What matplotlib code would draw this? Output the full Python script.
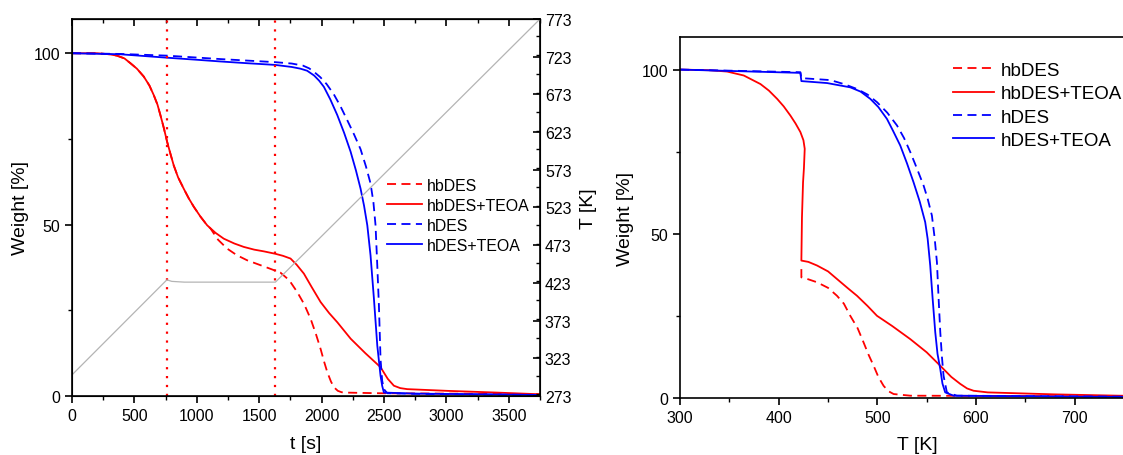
import matplotlib
matplotlib.use("Agg")
import matplotlib.pyplot as plt
from matplotlib.ticker import MultipleLocator

plt.rcParams['font.family'] = ['Liberation Sans', 'DejaVu Sans']

# ---- left panel: weight vs time ----
t_hb = [0, 200, 300, 360, 420, 468, 520, 575, 620, 655, 685, 708, 735, 762, 790, 815, 850, 895,
        935, 976, 1030, 1083, 1109, 1170, 1243, 1320, 1403, 1500, 1590, 1670, 1740, 1805, 1860,
        1912, 1955, 1992, 2020, 2046, 2075, 2100, 2130, 2160, 2178, 2472, 3000, 3750]
w_hb = [100, 100, 99.7, 99.3, 98.5, 97.1, 95.5, 93.2, 90.6, 87.8, 85, 82, 78.3, 74.2, 70.5, 67.3,
        63.8, 60.5, 57.7, 55.2, 52.3, 49.8, 48.9, 45.6, 43, 41.1, 39.6, 38.3, 37.1, 36.0, 33.8,
        30.3, 26.8, 22.5, 18.0, 13.7, 10.0, 6.9, 4.2, 2.5, 1.5, 1.1, 1.0, 0.8, 0.7, 0.5]

t_hb_teoa = [0, 200, 300, 360, 420, 468, 520, 575, 620, 655, 685, 708, 735, 762, 790, 815, 850,
             895, 935, 976, 1030, 1083, 1150, 1216, 1300, 1376, 1460, 1537, 1628, 1690, 1751,
             1800, 1858, 1920, 1992, 2060, 2126, 2233, 2350, 2472, 2530, 2579, 2630, 2686, 3007,
             3400, 3750]
w_hb_teoa = [100, 100, 99.7, 99.3, 98.5, 97.1, 95.5, 93.2, 90.6, 87.8, 85, 82, 78.3, 74.2, 70.5,
             67.3, 63.8, 60.5, 57.7, 55.2, 52.3, 49.8, 47.6, 45.9, 44.5, 43.5, 42.7, 42.2, 41.5,
             40.9, 40.1, 38.3, 35.7, 31.8, 27.4, 24.2, 21.5, 16.7, 12.5, 8.4, 5.0, 3.0, 2.3, 2.0,
             1.5, 1.0, 0.5]

t_h = [0, 387, 762, 1190, 1628, 1760, 1850, 1900, 1938, 1990, 2040, 2098, 2150, 2205, 2260,
       2312, 2355, 2392, 2415, 2432, 2446, 2459, 2472, 2485, 2499, 2526, 2800, 3750]
w_h = [100, 99.8, 99.3, 98.3, 97.4, 97.0, 96.4, 95.6, 94.6, 93.0, 91.0, 88.0, 84.6, 80.5, 76.3,
       72.0, 67.0, 62.0, 56.5, 49.8, 38.0, 26.4, 10.8, 4.5, 2.0, 0.8, 0.6, 0.3]

t_h_teoa = [0, 387, 762, 1000, 1190, 1400, 1628, 1760, 1830, 1884, 1940, 1980, 2018, 2070, 2125,
            2180, 2232, 2275, 2312, 2340, 2366, 2392, 2419, 2446, 2472, 2485, 2499, 2740, 3750]
w_h_teoa = [100, 99.7, 98.7, 98.1, 97.6, 97.1, 96.6, 96.0, 95.5, 94.9, 93.5, 92.0, 90.2, 86.5,
            82, 76.8, 71.3, 65.8, 60.5, 55.5, 49.8, 41, 28.4, 14.7, 5.9, 3.0, 1.0, 0.7, 0.3]

# furnace temperature program
t_temp = [0, 760, 800, 900, 1630, 3750]
T_temp = [301, 427, 425, 424, 424, 773]

t_marks = [760, 1628]

# ---- right panel: weight vs temperature ----
T_hb = [422.9, 422.9, 430, 438.8, 450, 459, 466, 472.5, 480, 486, 491, 496.2, 501, 506.3, 511,
        516.5, 533.4, 650, 800]
W_hb = [39.3, 36.8, 36.2, 35.3, 33.6, 31.2, 28.8, 25.1, 21.3, 17, 13.3, 9.9, 6.5, 3.8, 2.2,
        1.3, 0.8, 0.7, 0.5]

T_hb_teoa = [300, 330, 347.6, 364.5, 381.4, 390, 398.3, 405, 411.8, 417, 421.9, 425, 426.3,
             425.5, 424.6, 423.5, 422.9, 430, 438.8, 450, 459, 470, 479.3, 490, 499.6, 515,
             533.4, 550, 563.8, 575, 584, 591, 597.6, 612, 680, 745, 800]
W_hb_teoa = [100, 99.8, 99.4, 98.2, 95.6, 93.6, 91.1, 88.8, 86, 83.6, 81, 78.5, 75.9,
             70, 65.7, 55, 41.9, 41.5, 40.4, 38.6, 36.3, 33.5, 31.2, 28.1, 25.1, 22.0,
             18, 14.0, 9.9, 6.5, 4.4, 3.0, 2.3, 1.8, 1.2, 0.8, 0.6]

T_h = [300, 421.9, 422.9, 452.4, 466, 479.3, 490, 499.6, 510, 519.9, 527, 533.4, 540, 546.9,
       551, 555.3, 558, 560.4, 562, 563.8, 565.5, 567.1, 570.5, 580.6, 700, 800]
W_h = [100, 99.2, 97.4, 96.8, 95.6, 94.1, 92.4, 90.1, 86.9, 83, 79.2, 74.9, 70.0, 64.7,
       60.7, 55.6, 49, 41.4, 31, 20.1, 12.5, 6.9, 1.8, 0.8, 0.6, 0.4]

T_h_teoa = [300, 421.9, 422.9, 449, 472.5, 483, 492.8, 501, 509.7, 516, 523.2, 530, 536.7,
            543, 548.5, 551, 553.6, 556, 558.7, 561, 563.8, 566, 568.8, 577.3, 700, 800]
W_h_teoa = [100, 99, 96.5, 95.9, 94.6, 93.3, 91.1, 88.6, 85, 81.3, 76.9, 71.5, 65.7,
            59.8, 53.6, 48.5, 40.4, 30.5, 20.1, 13.5, 8.9, 4.5, 1.8, 0.8, 0.5, 0.4]

RED = '#ff0000'
BLUE = '#0000ff'
DASH = (0, (5, 3))
LW = 1.3

fig = plt.figure(figsize=(11.23, 4.56), dpi=100)

# left panel
ax = fig.add_axes([0.0641, 0.1294, 0.4168, 0.8268])
ax.plot(t_hb, w_hb, color=RED, ls=DASH, lw=LW, label='hbDES')
ax.plot(t_hb_teoa, w_hb_teoa, color=RED, lw=LW, label='hbDES+TEOA')
ax.plot(t_h, w_h, color=BLUE, ls=DASH, lw=LW, label='hDES')
ax.plot(t_h_teoa, w_h_teoa, color=BLUE, lw=LW, label='hDES+TEOA')
for tm in t_marks:
    ax.axvline(tm, color=RED, ls=(0, (1, 3)), lw=1.6)
ax.set_xlim(0, 3750)
ax.set_ylim(0, 110)
ax.set_xticks(range(0, 3501, 500))
ax.set_yticks([0, 50, 100])
ax.xaxis.set_minor_locator(MultipleLocator(250))
ax.yaxis.set_minor_locator(MultipleLocator(25))
ax.tick_params(which='major', direction='out', length=5, width=1.2, labelsize=11.5)
ax.tick_params(which='minor', direction='out', length=3, width=1.0)
ax.set_xlabel('t [s]', fontsize=14)
ax.set_ylabel('Weight [%]', fontsize=14)
ax.xaxis.set_label_coords(0.5, -0.103)
ax.yaxis.set_label_coords(-0.092, 0.5)
for s in ax.spines.values():
    s.set_linewidth(1.2)

top = ax.secondary_xaxis('top')
top.set_xticks(range(0, 3501, 500))
top.xaxis.set_minor_locator(MultipleLocator(250))
top.tick_params(which='major', direction='in', length=5, width=1.2, labeltop=False)
top.tick_params(which='minor', direction='in', length=3, width=1.0)

ax2 = ax.twinx()
ax2.plot(t_temp, T_temp, color='#b4b4b4', lw=0.9)
ax2.set_ylim(273, 773)
ax2.set_yticks(range(273, 774, 50))
ax2.yaxis.set_minor_locator(MultipleLocator(25))
ax2.tick_params(which='major', direction='in', length=5, width=1.2, labelsize=11.5)
ax2.tick_params(which='minor', direction='in', length=3, width=1.0)
ax2.set_ylabel('T [K]', fontsize=14)
ax2.yaxis.set_label_coords(1.085, 0.5)

ax.legend(loc='upper left', bbox_to_anchor=(0.3446, 0.608), bbox_transform=fig.transFigure,
          frameon=False, fontsize=11.4, borderpad=0, borderaxespad=0, labelspacing=0.32,
          handlelength=2.2, handletextpad=0.35)

# right panel
bx = fig.add_axes([0.6057, 0.1243, 0.4214, 0.7930])
bx.plot(T_hb, W_hb, color=RED, ls=DASH, lw=LW, label='hbDES')
bx.plot(T_hb_teoa, W_hb_teoa, color=RED, lw=LW, label='hbDES+TEOA')
bx.plot(T_h, W_h, color=BLUE, ls=DASH, lw=LW, label='hDES')
bx.plot(T_h_teoa, W_h_teoa, color=BLUE, lw=LW, label='hDES+TEOA')
bx.set_xlim(300, 780)
bx.set_ylim(0, 110)
bx.set_xticks(range(300, 701, 100))
bx.set_yticks([0, 50, 100])
bx.xaxis.set_minor_locator(MultipleLocator(50))
bx.yaxis.set_minor_locator(MultipleLocator(25))
bx.tick_params(which='major', direction='out', length=5, width=1.2, labelsize=11.5)
bx.tick_params(which='minor', direction='out', length=3, width=1.0)
bx.set_xlabel('T [K]', fontsize=14)
bx.set_ylabel('Weight [%]', fontsize=14)
bx.xaxis.set_label_coords(0.5, -0.105)
bx.yaxis.set_label_coords(-0.097, 0.5)
for s in bx.spines.values():
    s.set_linewidth(1.2)

bx.legend(loc='upper left', bbox_to_anchor=(0.8486, 0.862), bbox_transform=fig.transFigure,
          frameon=False, fontsize=13.5, borderpad=0, borderaxespad=0, labelspacing=0.33,
          handlelength=2.2, handletextpad=0.35)

fig.savefig('out.png', dpi=100)
